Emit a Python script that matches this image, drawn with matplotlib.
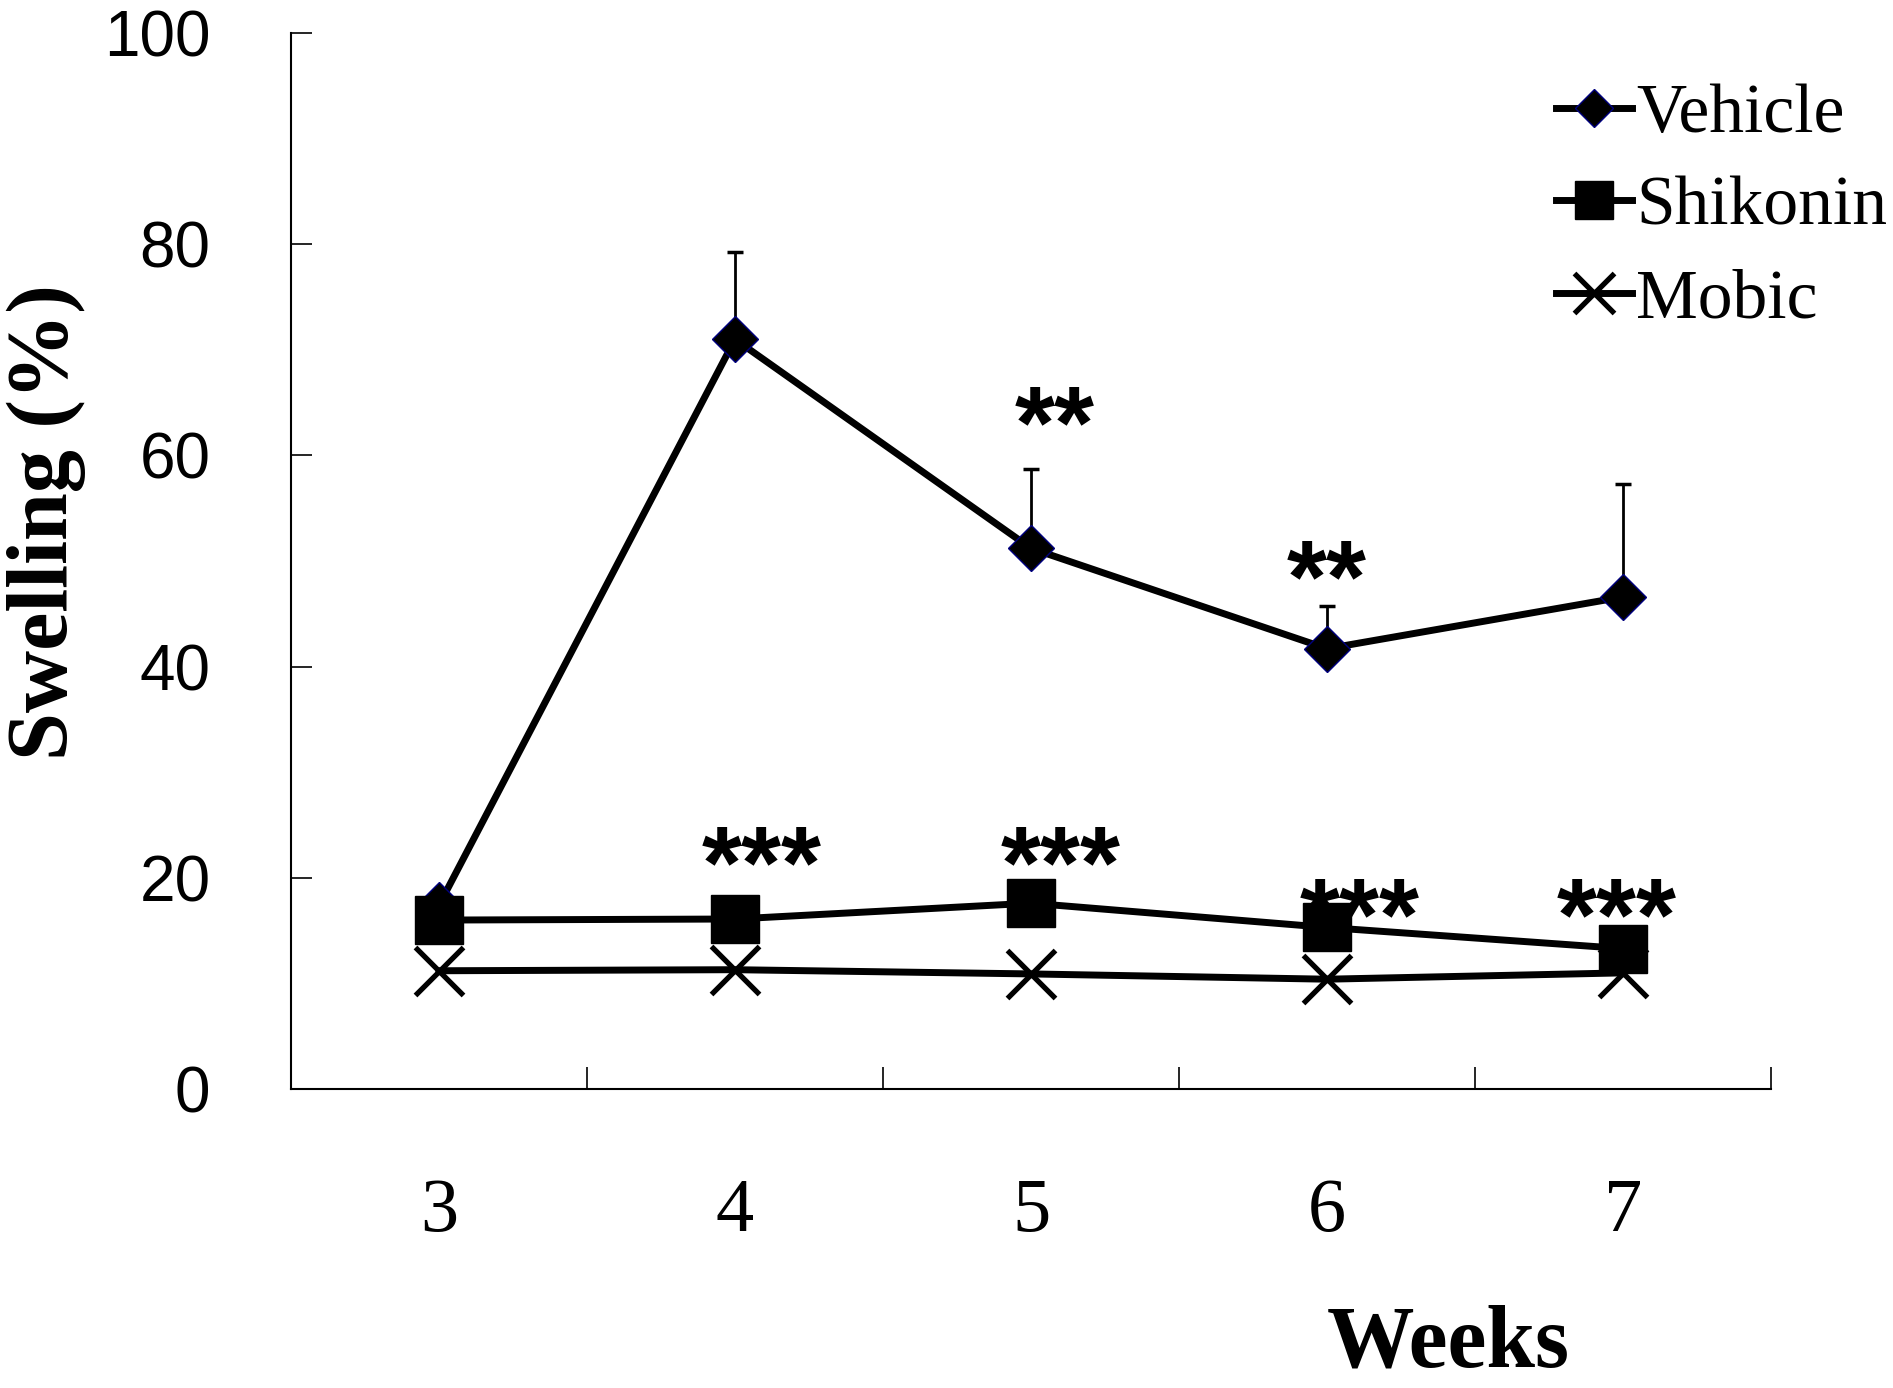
import matplotlib
matplotlib.use('Agg')
import matplotlib.pyplot as plt
import numpy as np

# ---- data ----
weeks = ['3', '4', '5', '6', '7']
vehicle = [17.4, 71.0, 51.2, 41.7, 46.6]
vehicle_err = [0.0, 8.3, 7.5, 4.0, 10.7]
shikonin = [16.0, 16.1, 17.6, 15.3, 13.3]
mobic = [11.2, 11.3, 10.9, 10.4, 11.0]
series_labels = ['Vehicle', 'Shikonin', 'Mobic']
yticks = [0, 20, 40, 60, 80, 100]

sig_labels = ['**', '**', '***', '***', '***', '***']
sig_x = [2.08, 3.0, 1.09, 2.10, 3.11, 3.98]
sig_y = [64.2, 49.6, 22.5, 22.5, 17.6, 17.6]

SANS = 'Liberation Sans'
SERIF = 'Liberation Serif'

fig = plt.figure(figsize=(18.93, 13.88), dpi=100)
ax = fig.add_axes([0.1537, 0.2154, 0.7819, 0.7608])

x = np.arange(len(weeks))

ax.errorbar(x, vehicle, yerr=[np.zeros(len(x)), vehicle_err], fmt='none',
            ecolor='black', elinewidth=2, capsize=6, capthick=2.5, zorder=2)
l1, = ax.plot(x, vehicle, color='black', lw=5, marker='D', ms=23,
              mfc='black', mec='#000080', mew=1, zorder=3)
l2, = ax.plot(x, shikonin, color='black', lw=5, marker='s', ms=34,
              mfc='black', mec='black', zorder=4)
l3, = ax.plot(x, mobic, color='black', lw=5, marker='x', ms=35,
              mew=3.8, mec='black', zorder=4)

for s, xi, yi in zip(sig_labels, sig_x, sig_y):
    ax.annotate(s, xy=(xi, yi), xytext=(0, -34), textcoords='offset points',
                ha='center', va='baseline', fontsize=74, fontweight='bold',
                fontfamily=SANS, zorder=1.5, annotation_clip=False)

ax.set_xlim(-0.5, 4.5)
ax.set_ylim(0, 100)

for sp in ['top', 'right']:
    ax.spines[sp].set_visible(False)
for sp in ['left', 'bottom']:
    ax.spines[sp].set_linewidth(1.5)

ax.set_yticks(yticks)
ax.set_yticklabels([str(v) for v in yticks], fontfamily=SANS)
ax.tick_params(axis='y', direction='in', length=15, width=1.2, pad=58,
               labelsize=46)

ax.set_xticks(x + 0.5)
ax.set_xticklabels([])
ax.tick_params(axis='x', which='major', direction='in', length=16, width=1.2)
ax.set_xticks(x, minor=True)
ax.set_xticklabels(weeks, minor=True, fontfamily=SERIF)
ax.tick_params(axis='x', which='minor', length=0, pad=64, labelsize=55)

ax.legend([l1, l2, l3], series_labels, loc='upper right',
          bbox_to_anchor=(0.997, 0.94), bbox_transform=fig.transFigure,
          frameon=False, prop={'family': SERIF, 'size': 50},
          handlelength=1.1, handletextpad=0.06, labelspacing=0.42,
          borderpad=0, borderaxespad=0, markerscale=0.82)

fig.text(46 / 1893, 1 - 522 / 1388, 'Swelling (%)', rotation=90,
         ha='center', va='center', fontfamily=SERIF, fontweight='bold',
         fontsize=62)
fig.text(1448 / 1893, 0.002, 'Weeks', ha='center', va='bottom',
         fontfamily=SERIF, fontweight='bold', fontsize=63)

fig.savefig('out.png', dpi=100)
